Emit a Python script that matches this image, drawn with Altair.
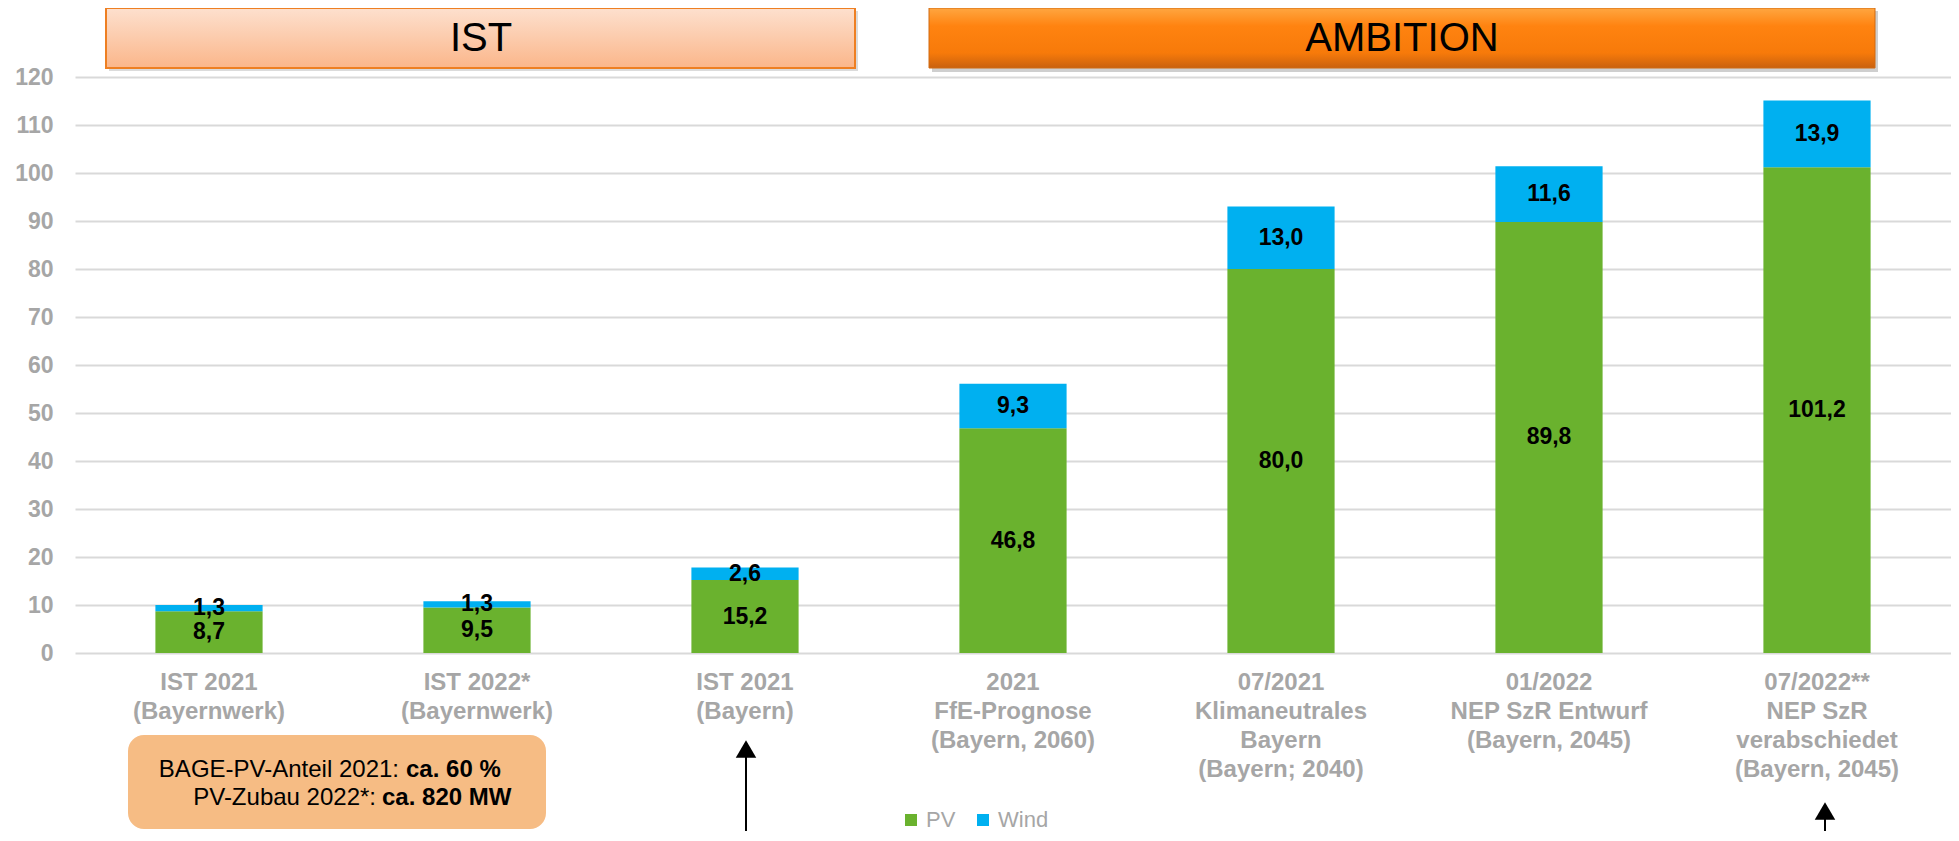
import altair as alt
import pandas as pd

# ---------------- data ----------------
categories = [
    "IST 2021|(Bayernwerk)",
    "IST 2022*|(Bayernwerk)",
    "IST 2021|(Bayern)",
    "2021|FfE-Prognose|(Bayern, 2060)",
    "07/2021|Klimaneutrales|Bayern|(Bayern; 2040)",
    "01/2022|NEP SzR Entwurf|(Bayern, 2045)",
    "07/2022**|NEP SzR|verabschiedet|(Bayern, 2045)",
]
pv = [8.7, 9.5, 15.2, 46.8, 80.0, 89.8, 101.2]
wind = [1.3, 1.3, 2.6, 9.3, 13.0, 11.6, 13.9]
series = ["PV", "Wind"]
y_ticks = list(range(0, 121, 10))
banner_texts = ["IST", "AMBITION"]
box_normal = ["BAGE-PV-Anteil 2021:", "PV-Zubau 2022*:"]
box_bold = ["ca. 60 %", "ca. 820 MW"]

FONT = "Liberation Sans"
GRAY = "#A6A6A6"
GREEN = "#6AB22E"
BLUE = "#00B0F0"
W, H = 1876, 576


def fmt(v):
    return f"{v:.1f}".replace(".", ",")


rows = []
for c, p, w in zip(categories, pv, wind):
    rows.append({"cat": c, "series": "PV", "y0": 0, "y1": p, "mid": p / 2, "label": fmt(p)})
    rows.append({"cat": c, "series": "Wind", "y0": p, "y1": p + w, "mid": p + w / 2, "label": fmt(w)})
df = pd.DataFrame(rows)

x_enc = alt.X(
    "cat:N",
    sort=categories,
    scale=alt.Scale(paddingInner=0.6, paddingOuter=0.3),
    axis=alt.Axis(
        title=None,
        labelExpr="split(datum.label, '|')",
        labelAngle=0,
        labelFont=FONT,
        labelFontSize=24,
        labelFontWeight="bold",
        labelColor=GRAY,
        labelLineHeight=29,
        labelPadding=17,
        labelLimit=0,
        labelOverlap=False,
        domain=False,
        ticks=False,
        tickSize=0,
        grid=False,
    ),
)

y_scale = alt.Scale(domain=[0, 120], nice=False)

bars = alt.Chart(df).mark_bar().encode(
    x=x_enc,
    y=alt.Y(
        "y0:Q",
        scale=y_scale,
        axis=alt.Axis(
            title=None,
            values=y_ticks,
            grid=True,
            gridColor="#D9D9D9",
            gridWidth=2,
            domain=False,
            ticks=False,
            tickSize=0,
            labelFont=FONT,
            labelFontSize=23,
            labelFontWeight="bold",
            labelColor=GRAY,
            labelPadding=22,
        ),
    ),
    y2="y1:Q",
    color=alt.Color(
        "series:N",
        scale=alt.Scale(domain=series, range=[GREEN, BLUE]),
        legend=alt.Legend(
            title=None,
            orient="none",
            legendX=825,
            legendY=732,
            direction="horizontal",
            symbolType="square",
            symbolSize=144,
            symbolStrokeWidth=0,
            labelFont=FONT,
            labelFontSize=22,
            labelColor=GRAY,
            labelOffset=4,
            columnPadding=16,
            padding=0,
        ),
    ),
)

labels = alt.Chart(df).mark_text(
    font=FONT, fontSize=23, fontWeight="bold", color="black", baseline="middle"
).encode(x=x_enc, y=alt.Y("mid:Q", scale=y_scale), text="label:N")


def one(val):
    return pd.DataFrame({"t": [val]})


# banners
ist_grad = alt.LinearGradient(
    gradient="linear",
    stops=[alt.GradientStop(color="#FDE0CE", offset=0), alt.GradientStop(color="#FBB68A", offset=1)],
    x1=0, x2=0, y1=0, y2=1,
)
amb_grad = alt.LinearGradient(
    gradient="linear",
    stops=[
        alt.GradientStop(color="#FFA640", offset=0),
        alt.GradientStop(color="#FF8310", offset=0.3),
        alt.GradientStop(color="#F77A0A", offset=0.75),
        alt.GradientStop(color="#C9610F", offset=1),
    ],
    x1=0, x2=0, y1=0, y2=1,
)

shadow1 = alt.Chart(one(0)).mark_rect(color="#999999", opacity=0.35).encode(
    x=alt.value(34), x2=alt.value(783), y=alt.value(-66), y2=alt.value(-6))
banner1 = alt.Chart(one(0)).mark_rect(fill=ist_grad, stroke="#EE7F22", strokeWidth=2).encode(
    x=alt.value(31), x2=alt.value(780), y=alt.value(-69), y2=alt.value(-9))
shadow2 = alt.Chart(one(0)).mark_rect(color="#888888", opacity=0.4).encode(
    x=alt.value(857), x2=alt.value(1803), y=alt.value(-66), y2=alt.value(-5))
banner2 = alt.Chart(one(0)).mark_rect(fill=amb_grad, stroke="#D06A12", strokeWidth=1).encode(
    x=alt.value(854), x2=alt.value(1800), y=alt.value(-69), y2=alt.value(-9))
btext1 = alt.Chart(one(banner_texts[0])).mark_text(
    font=FONT, fontSize=40, color="black", baseline="middle", align="center").encode(
    x=alt.value(406), y=alt.value(-38), text="t:N")
btext2 = alt.Chart(one(banner_texts[1])).mark_text(
    font=FONT, fontSize=40, color="black", baseline="middle", align="center").encode(
    x=alt.value(1327), y=alt.value(-38), text="t:N")

# orange info box
box = alt.Chart(one(0)).mark_rect(color="#F6BC84", cornerRadius=16).encode(
    x=alt.value(53), x2=alt.value(471), y=alt.value(658), y2=alt.value(752))
box_layers = []
normal_right = [324, 301]
bold_left = [331, 307]
ys = [693, 721]
for nt, bt, nr, bl, yy in zip(box_normal, box_bold, normal_right, bold_left, ys):
    box_layers.append(alt.Chart(one(nt)).mark_text(
        font=FONT, fontSize=24, color="black", align="right", baseline="middle").encode(
        x=alt.value(nr), y=alt.value(yy), text="t:N"))
    box_layers.append(alt.Chart(one(bt)).mark_text(
        font=FONT, fontSize=24, fontWeight="bold", color="black", align="left", baseline="middle").encode(
        x=alt.value(bl), y=alt.value(yy), text="t:N"))

# arrows
arrows = []
for ax, tip in [(671, 661), (1750, 723)]:
    arrows.append(alt.Chart(one(0)).mark_rule(color="black", strokeWidth=2).encode(
        x=alt.value(ax), y=alt.value(tip + 14), y2=alt.value(800)))
    arrows.append(alt.Chart(one(0)).mark_point(
        shape="triangle-up", filled=True, color="black", opacity=1, size=420, strokeWidth=0).encode(
        x=alt.value(ax), y=alt.value(tip + 11)))

chart = alt.layer(
    bars, labels,
    shadow1, banner1, shadow2, banner2, btext1, btext2,
    box, *box_layers, *arrows,
).properties(
    width=W, height=H,
    autosize=alt.AutoSizeParams(type="none"),
    padding={"left": 67, "top": 69, "right": 0, "bottom": 178},
    background="white",
).configure_view(stroke=None)

chart.save("out.html", embed_options={"renderer": "svg", "actions": False})
